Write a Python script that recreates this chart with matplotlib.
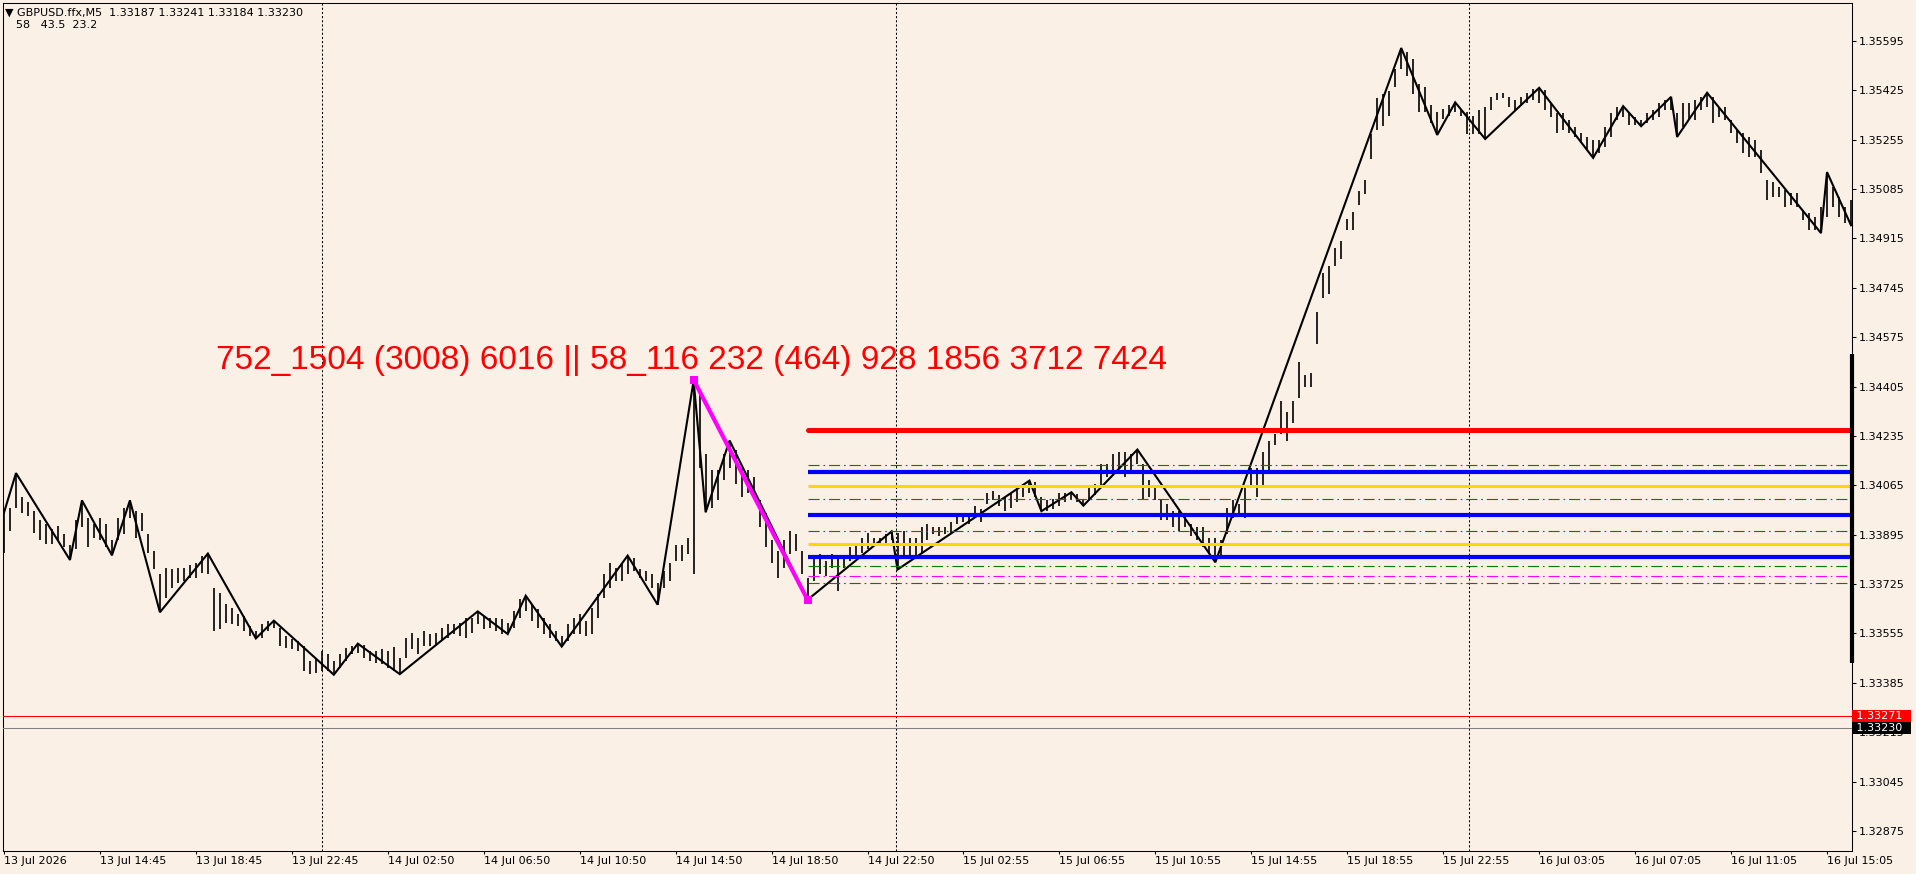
import numpy as np
import matplotlib
matplotlib.use("Agg")
import matplotlib.pyplot as plt
from matplotlib.transforms import blended_transform_factory

# ---------------- data ----------------
BG = "#FAF0E6"
bar_step = 3  # one drawn bar per 3 M5 bars

# bar highs / lows in points (1e-5)
highs_pts = [
 133971,133988,134107,134023,134006,133978,133944,133933,133916,133926,
 133899,133858,133944,134013,133954,133933,133954,133933,133875,133954,
 133988,134013,133978,133971,133899,133840,133761,133782,133778,133782,
 133782,133789,133796,133823,133830,133713,133696,133658,133644,133623,
 133616,133582,133565,133589,133599,133599,133575,133547,133537,133530,
 133513,133461,133468,133496,133485,133461,133485,133506,133513,133520,
 133516,133496,133496,133503,133496,133510,133472,133541,133558,133541,
 133565,133554,133558,133575,133589,133589,133592,133609,133609,133631,
 133616,133609,133609,133606,133590,133634,133675,133685,133658,133640,
 133609,133589,133565,133547,133589,133609,133623,133599,133644,133692,
 133761,133796,133782,133799,133823,133816,133778,133771,133761,133727,
 133771,133796,133858,133858,133885,134425,134391,134174,134116,134116,
 134174,134219,134185,134126,134116,134092,134013,133968,133875,133840,
 133875,133909,133899,133840,133747,133816,133830,133806,133830,133816,
 133823,133851,133864,133885,133902,133885,133885,133899,133906,133900,
 133909,133885,133882,133920,133933,133920,133920,133920,133937,133961,
 133968,133968,133995,133985,134040,134047,134030,134023,134037,134054,
 134071,134081,134078,134023,134013,134019,134037,134040,134041,134036,
 134013,134057,134071,134140,134140,134174,134180,134178,134174,134188,
 134140,134082,134057,134013,134002,133978,133978,133968,133933,133920,
 133920,133885,133885,133875,133988,134013,134002,134057,134126,134126,
 134181,134216,134240,134354,134316,134354,134488,134443,134450,134660,
 134795,134819,134881,134905,134981,135005,135077,135115,135273,135397,
 135411,135422,135497,135570,135555,135532,135446,135435,135373,135349,
 135360,135373,135383,135360,135349,135335,135356,135366,135401,135415,
 135415,135401,135391,135401,135415,135430,135433,135425,135380,135346,
 135346,135322,135298,135277,135263,135253,135253,135298,135346,135366,
 135370,135346,135332,135322,135346,135356,135380,135391,135402,135346,
 135380,135380,135391,135401,135416,135401,135366,135366,135322,135287,
 135277,135263,135253,135218,135115,135108,135091,135080,135070,135070,
 135012,135001,134987,135022,135143,135091,135056,135022,135046,
]
lows_pts = [
 133833,133909,133988,133971,133961,133902,133875,133864,133864,133875,
 133851,133808,133847,133920,133851,133885,133875,133851,133824,133875,
 133899,133954,133885,133909,133833,133778,133628,133678,133713,133727,
 133737,133747,133747,133764,133761,133565,133572,133592,133589,133582,
 133565,133547,133538,133541,133565,133575,133513,133506,133503,133496,
 133427,133417,133420,133427,133427,133413,133437,133461,133485,133489,
 133472,133461,133454,133451,133437,133427,133415,133472,133503,133485,
 133513,133513,133513,133530,133541,133554,133547,133541,133558,133589,
 133572,133575,133565,133554,133553,133575,133609,133634,133599,133575,
 133554,133541,133530,133510,133530,133554,133554,133547,133554,133609,
 133678,133713,133737,133737,133761,133771,133747,133737,133713,133654,
 133713,133737,133806,133806,133830,133761,134126,133972,133988,134013,
 134082,134126,134071,134023,134037,134023,133920,133851,133796,133747,
 133782,133830,133840,133761,133671,133737,133761,133754,133782,133702,
 133782,133806,133816,133833,133847,133864,133864,133868,133875,133775,
 133816,133816,133816,133830,133875,133899,133892,133899,133902,133933,
 133937,133933,133954,133937,134002,134013,133995,133978,133988,134006,
 134023,134037,134023,133976,133978,133985,133995,134006,134013,134006,
 133995,134019,134030,134057,134092,134106,134126,134092,134106,134140,
 134013,134023,134013,133944,133944,133920,133909,133920,133892,133875,
 133851,133830,133800,133816,133899,133954,133968,133954,134057,134026,
 134057,134106,134205,134240,134216,134278,134364,134402,134402,134550,
 134708,134722,134819,134843,134943,134943,135029,135067,135187,135287,
 135301,135335,135435,135497,135473,135411,135349,135349,135311,135271,
 135325,135335,135349,135335,135273,135273,135273,135257,135356,135391,
 135397,135366,135356,135373,135380,135391,135380,135356,135332,135277,
 135287,135277,135263,135242,135218,135192,135208,135229,135263,135322,
 135332,135304,135304,135301,135311,135322,135332,135356,135356,135264,
 135298,135322,135322,135356,135366,135311,135332,135322,135277,135242,
 135208,135194,135194,135139,135046,135056,135056,135022,135029,135022,
 134977,134943,134943,134933,134987,135022,134987,134967,134960,
]

# zigzag pivots (bar index, price in points)
zz_idx = [0, 6, 33, 39, 54, 63, 78, 102, 126, 135, 165, 177, 198, 237, 252, 261,
          279, 312, 327, 345, 351, 363, 402, 444, 447, 513, 519, 534, 540, 567,
          606, 699, 717, 726, 741, 768, 795, 810, 819, 834, 837, 852, 909, 912, 924]
zz_pts = [133971, 134107, 133808, 134013, 133824, 134013, 133628, 133830, 133538,
          133599, 133413, 133520, 133415, 133631, 133553, 133685, 133510, 133823,
          133654, 134425, 133972, 134219, 133671, 133906, 133775, 134081, 133976,
          134041, 133995, 134188, 133800, 135570, 135271, 135383, 135257, 135433,
          135192, 135370, 135301, 135402, 135264, 135416, 134933, 135143, 134960]

# magenta leg
mag_idx = [345, 402]
mag_price = [1.34428, 1.33671]

# horizontal levels starting at bar 402
lvl_start = 402
red_lvl = [1.34255]
blue_lvls = [1.34110, 1.33962, 1.33818]
gold_lvls = [1.34061, 1.33864]
green_lvls = [1.34136, 1.34019, 1.33906, 1.33788, 1.33730]
mag_lvls = [1.33754]

# price lines
ask_line = 1.33271
bid_line = 1.33230
right_bar = [1.34516, 1.33454]

day_seps = [159, 446, 733]

yticks = [1.32875, 1.33045, 1.33215, 1.33385, 1.33555, 1.33725, 1.33895, 1.34065,
          1.34235, 1.34405, 1.34575, 1.34745, 1.34915, 1.35085, 1.35255, 1.35425,
          1.35595]
xtick_idx = [0, 48, 96, 144, 192, 240, 288, 336, 384, 432, 480, 528, 576, 624,
             672, 720, 768, 816, 864, 912]
xtick_labels = ["13 Jul 2026", "13 Jul 14:45", "13 Jul 18:45", "13 Jul 22:45",
                "14 Jul 02:50", "14 Jul 06:50", "14 Jul 10:50", "14 Jul 14:50",
                "14 Jul 18:50", "14 Jul 22:50", "15 Jul 02:55", "15 Jul 06:55",
                "15 Jul 10:55", "15 Jul 14:55", "15 Jul 18:55", "15 Jul 22:55",
                "16 Jul 03:05", "16 Jul 07:05", "16 Jul 11:05", "16 Jul 15:05"]

label_text = "752_1504 (3008) 6016 || 58_116 232 (464) 928 1856 3712 7424"
label_pos = (106, 1.34464)

header1 = "\u25BC GBPUSD.ffx,M5  1.33187 1.33241 1.33184 1.33230"
header2 = "58   43.5  23.2"

# ---------------- plot ----------------
W, H, DPI = 1916, 874, 100
fig = plt.figure(figsize=(W / DPI, H / DPI), dpi=DPI, facecolor=BG)
ax = fig.add_axes([3 / W, (874 - 850.5) / H, (1852 - 3) / W, (850.5 - 3) / H])
ax.set_facecolor(BG)

highs = np.array(highs_pts) / 1e5
lows = np.array(lows_pts) / 1e5
bar_idx = np.arange(len(highs)) * bar_step
zz_price = np.array(zz_pts) / 1e5

ax.set_xlim(-0.5, 924.5)
ax.set_ylim(1.32808, 1.35725)

# day separators
for d in day_seps:
    ax.axvline(d, color="black", lw=0.75, dashes=(2, 2), zorder=1)

# bars
ax.vlines(bar_idx, lows, highs, color="black", lw=1.2, zorder=2)
# zigzag
ax.plot(zz_idx, zz_price, color="black", lw=1.5, zorder=3, solid_joinstyle="miter")

# levels
xr = 924.5
for p in green_lvls:
    ax.plot([lvl_start, xr - 1], [p, p], color="#008000", lw=0.8,
            dashes=(10, 3.5, 1.5, 3.5), zorder=4)
for p in mag_lvls:
    ax.plot([lvl_start, xr - 1], [p, p], color="#FF00FF", lw=0.8,
            dashes=(10, 3.5, 1.5, 3.5), zorder=4)
for p in gold_lvls:
    ax.plot([lvl_start, xr], [p, p], color="#FFD700", lw=2.2, zorder=4,
            solid_capstyle="butt")
for p in blue_lvls:
    ax.plot([lvl_start, xr], [p, p], color="#0000FF", lw=3.0, zorder=4,
            solid_capstyle="butt")
for p in red_lvl:
    ax.plot([lvl_start, xr], [p, p], color="#FF0000", lw=3.6, zorder=4,
            solid_capstyle="round")

# magenta leg
ax.plot(mag_idx, mag_price, color="#FF00FF", lw=3.0, zorder=5,
        marker="s", markersize=5.5, markeredgewidth=0)

# price lines
ax.axhline(ask_line, color="#FF0000", lw=0.75, zorder=4)
ax.axhline(bid_line, color="#808080", lw=0.75, zorder=4)

# text object
ax.text(label_pos[0], label_pos[1], label_text, color="#FF0000", fontsize=24,
        family=["Liberation Sans", "DejaVu Sans"], ha="left", va="baseline", zorder=6)

# axes styling
for s in ax.spines.values():
    s.set_color("black")
    s.set_linewidth(0.75)
ax.yaxis.tick_right()
ax.set_yticks(yticks)
ax.set_yticklabels([f"{v:.5f}" for v in yticks])
ax.set_xticks(xtick_idx)
ax.set_xticklabels(xtick_labels)
for lbl in ax.get_xticklabels():
    lbl.set_ha("left")
ax.tick_params(axis="x", direction="out", length=2.2, width=0.75, pad=2,
               labelsize=8, colors="black")
ax.tick_params(axis="y", direction="out", length=3.2, width=0.75, pad=2,
               labelsize=8, colors="black")

tr = blended_transform_factory(ax.transAxes, ax.transData)
ax.plot([1.0, 1.0], right_bar, transform=tr, color="black", lw=3.0,
        solid_capstyle="butt", clip_on=False, zorder=7)
ax.text(1.0005, ask_line, " " + f"{ask_line:.5f}" + "  ", transform=tr, color="white",
        fontsize=8, ha="left", va="center", zorder=8, clip_on=False,
        bbox=dict(boxstyle="square,pad=0.12", fc="#FF0000", ec="none"))
ax.text(1.0005, bid_line, " " + f"{bid_line:.5f}" + "  ", transform=tr, color="white",
        fontsize=8, ha="left", va="center", zorder=8, clip_on=False,
        bbox=dict(boxstyle="square,pad=0.12", fc="black", ec="none"))

# header
fig.text(5 / W, 1 - 13 / H, header1, fontsize=8, ha="left", va="center", color="black")
fig.text(16 / W, 1 - 25 / H, header2, fontsize=8, ha="left", va="center", color="black")

fig.savefig("out.png", dpi=DPI, facecolor=BG)
